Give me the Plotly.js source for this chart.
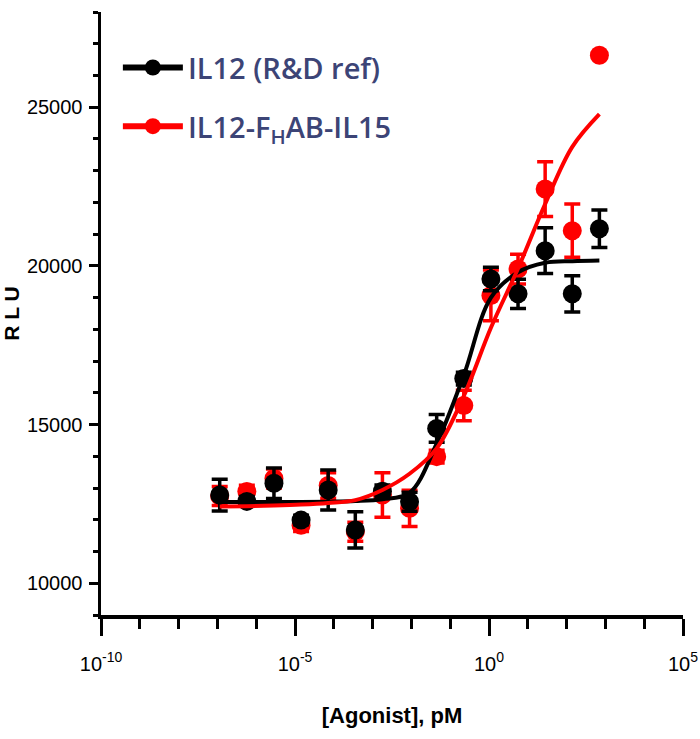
<!DOCTYPE html>
<html>
<head>
<meta charset="utf-8">
<script src="https://cdn.plot.ly/plotly-3.0.1.min.js"></script>
<style>html,body{margin:0;padding:0;background:#fff;}#chart{width:700px;height:739px;}</style>
</head>
<body>
<div id="chart"></div>
<script>
// Concentrations (pM), 5-fold dilution series
var conc = [1.147e-7, 5.734e-7, 2.867e-6, 1.434e-5, 7.168e-5, 3.584e-4, 1.792e-3, 8.96e-3, 4.48e-2, 0.224, 1.12, 5.6, 28, 140, 700];

// IL12 (R&D ref)
var blackY   = [12780, 12580, 13150, 11990, 12940, 11680, 12900, 12570, 14880, 16450, 19590, 19120, 20480, 19120, 21170];
var blackErr = [500, 150, 480, 150, 630, 570, 200, 300, 440, 200, 370, 460, 720, 570, 590];
var blackFit = [12560, 12560, 12560, 12560, 12570, 12590, 12650, 12850, 14400, 16550, 19000, 19800, 20100, 20150, 20170];

// IL12-FHAB-IL15
var redY   = [12750, 12890, 13300, 11830, 13080, 11620, 12780, 12360, 13990, 15600, 19070, 19900, 22420, 21110, 26640];
var redErr = [300, 200, 300, 200, 400, 300, 700, 570, 200, 480, 800, 470, 860, 840, 0];
var redFit = [12420, 12430, 12450, 12480, 12530, 12620, 12940, 13450, 14250, 15900, 18050, 19920, 21950, 23750, 24780];

var seriesNames = ['IL12 (R&D ref)', 'IL12-F<sub>H</sub>AB-IL15'];
var xTickVals = [1e-10, 1e-5, 1, 1e5];
var xTickText = ['10<sup>-10</sup>', '10<sup>-5</sup>', '10<sup>0</sup>', '10<sup>5</sup>'];
var xMinorVals = [1e-10,1e-9,1e-8,1e-7,1e-6,1e-5,1e-4,1e-3,1e-2,1e-1,1,10,100,1000,1e4,1e5];
var yTickVals = [10000, 15000, 20000, 25000];
var yTickText = ['10000', '15000', '20000', '25000'];

var BLACK = '#000000', RED = '#ff0000';

function pts(y, err, color) {
  return {x: conc, y: y, type: 'scatter', mode: 'markers', showlegend: false,
    marker: {color: color, size: 19},
    error_y: {type: 'data', array: err, visible: true, color: color, thickness: 3.5, width: 8}};
}
function fit(y, color) {
  return {x: conc, y: y, type: 'scatter', mode: 'lines', showlegend: false, hoverinfo: 'skip',
    line: {color: color, width: 4, shape: 'spline', smoothing: 1}};
}
function leg(name, color, rank) {
  return {x: [null], y: [null], type: 'scatter', mode: 'lines+markers', name: name,
    legendgroup: 'g' + rank, legendrank: rank,
    line: {color: color, width: 6}, marker: {color: color, size: 17}};
}

var data = [
  pts(redY, redErr, RED),
  pts(blackY, blackErr, BLACK),
  fit(blackFit, BLACK),
  fit(redFit, RED),
  leg(seriesNames[0], BLACK, 1),
  leg(seriesNames[1], RED, 2)
];

var tickFont = {family: 'Liberation Sans, Arial, sans-serif', size: 20, color: '#000'};

var layout = {
  width: 700, height: 739,
  margin: {l: 101, r: 17, t: 12, b: 124},
  paper_bgcolor: '#fff', plot_bgcolor: '#fff',
  showlegend: true,
  legend: {x: 0.029, y: 0.95, xanchor: 'left', yanchor: 'top', bgcolor: 'rgba(0,0,0,0)',
    font: {family: 'Open Sans, Lato, sans-serif', size: 29, color: '#3c4476', weight: 600},
    tracegroupgap: 18, traceorder: 'grouped', itemwidth: 60},
  xaxis: {type: 'log', range: [-10, 5], showgrid: false, zeroline: false,
    showline: true, linecolor: '#000', linewidth: 3.5,
    tickmode: 'array', tickvals: xTickVals, ticktext: xTickText,
    ticks: 'outside', ticklen: 17, tickwidth: 3, tickcolor: '#000',
    ticklabelstandoff: 11,
    tickfont: tickFont,
    minor: {tickmode: 'array', tickvals: xMinorVals, ticks: 'outside', ticklen: 10, tickwidth: 3, tickcolor: '#000', showgrid: false},
    title: {text: '[Agonist], pM', standoff: 35,
      font: {family: 'Liberation Sans Narrow, Liberation Sans, Arial, sans-serif', size: 22, color: '#000', weight: 700}}
  },
  yaxis: {range: [9000, 28000], showgrid: false, zeroline: false,
    showline: true, linecolor: '#000', linewidth: 3.5,
    tickmode: 'array', tickvals: yTickVals, ticktext: yTickText,
    ticks: 'outside', ticklen: 9, tickwidth: 3, tickcolor: '#000',
    ticklabelstandoff: 2,
    tickfont: tickFont,
    minor: {dtick: 1000, tick0: 0, ticks: 'outside', ticklen: 5, tickwidth: 3, tickcolor: '#000', showgrid: false},
    title: {text: 'R L U', standoff: 10,
      font: {family: 'Liberation Sans, Arial, sans-serif', size: 21, color: '#000', weight: 700}}
  }
};

Plotly.newPlot('chart', data, layout, {displayModeBar: false, staticPlot: true});
</script>
</body>
</html>
